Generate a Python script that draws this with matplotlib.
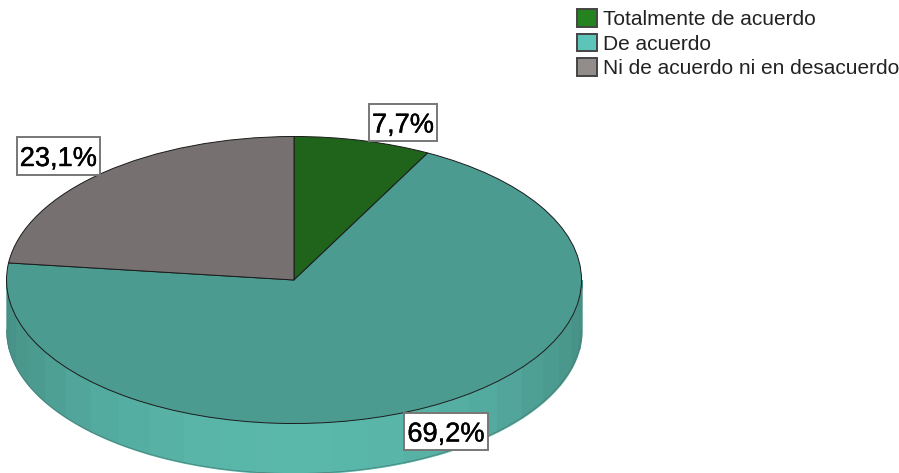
'''
Pie chart with a fake 3D rim, level of agreement
'''
import numpy as np
import matplotlib
matplotlib.use('Agg')
import matplotlib.pyplot as plt
import matplotlib.patheffects as pe
from matplotlib.patches import Patch, Rectangle

categories = ['Totalmente de acuerdo', 'De acuerdo', 'Ni de acuerdo ni en desacuerdo']
values = [7.7, 69.2, 23.1]
labels = ['7,7%', '69,2%', '23,1%']
top_colors = ['#20641c', '#4c9b91', '#767170']
legend_colors = ['#24831f', '#5cc4b8', '#928d8b']

W, H = 899, 473
CX, CY = 294, 280    # pie centre in pixels, from top left
RX, RY = 287.5, 143.5
DEPTH = 50 / RY      # rim height in units of the vertical radius

plt.rcParams['font.family'] = ['Liberation Sans', 'DejaVu Sans']

fig = plt.figure(figsize=(W / 100, H / 100), dpi=100)
ax = fig.add_axes([0, 0, 1, 1])

wedges, _ = ax.pie(values, colors=top_colors, startangle=90, counterclock=False,
                   wedgeprops={'edgecolor': '#1a1a1a', 'linewidth': 0.7})
for w in wedges:
    w.set_zorder(3)
ax.set_aspect('auto')
ax.set_xlim(-CX / RX, (W - CX) / RX)
ax.set_ylim(-(H - CY) / RY, CY / RY)
ax.axis('off')

# Rim: bands along the front half, lighter towards the bottom
edges = np.linspace(np.pi, 2 * np.pi, 25)
for a, b in zip(edges[:-1], edges[1:]):
    t = np.linspace(a, b, 10)
    shade = 0.78 + 0.22 * abs(np.sin((a + b) / 2)) ** 1.5
    col = np.array([0x5a, 0xb8, 0xab]) / 255 * shade
    ax.fill_between(np.cos(t), np.sin(t), np.sin(t) - DEPTH, facecolor=col, edgecolor=col,
                    lw=1.0, zorder=1)

# Silhouette of the rim
t = np.linspace(np.pi, 2 * np.pi, 200)
ax.plot(np.cos(t), np.sin(t) - DEPTH, color='#4a7d76', lw=0.5, zorder=2)

# Value labels in white boxes, box corners in pixels
label_boxes = [(369, 104, 437, 141), (404, 413, 488, 450), (17, 137, 100, 175)]
for txt, (x0, y0, x1, y1) in zip(labels, label_boxes):
    fig.add_artist(Rectangle((x0 / W, 1 - y1 / H), (x1 - x0) / W, (y1 - y0) / H,
                             transform=fig.transFigure, facecolor='white',
                             edgecolor='#777777', linewidth=1.4, zorder=4))
    fig.text((x0 + x1) / 2 / W, 1 - (y0 + y1) / 2 / H, txt, fontsize=19.6, color='black',
             ha='center', va='center_baseline', zorder=5,
             path_effects=[pe.withStroke(linewidth=0.3, foreground='black')])

handles = [Patch(facecolor=c, edgecolor='#444444', linewidth=1.4) for c in legend_colors]
fig.legend(handles, categories, loc='upper left', bbox_to_anchor=(572 / W, 1 - 4 / H),
           frameon=False, fontsize=15.0, labelcolor='#222222', handlelength=0.95, handleheight=0.95,
           handletextpad=0.28, labelspacing=0.2, borderpad=0.25, borderaxespad=0)

fig.savefig('out.png', dpi=100)
